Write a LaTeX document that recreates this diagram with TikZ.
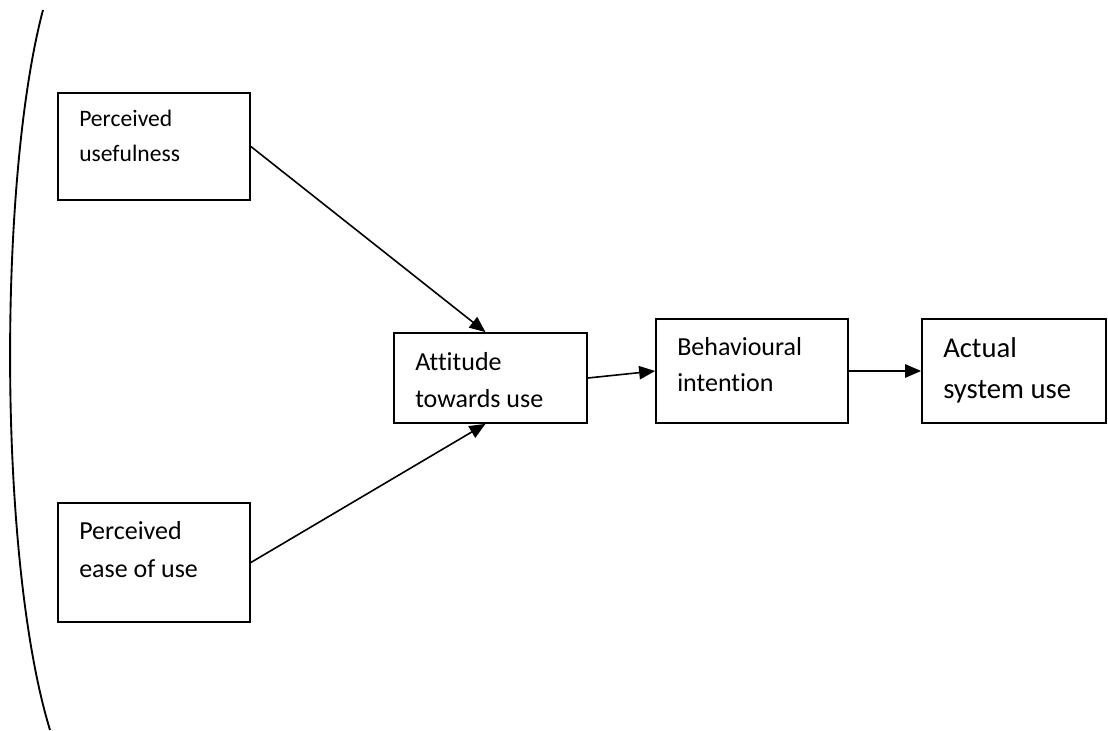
\documentclass[tikz,border=0pt]{standalone}
\usepackage{fontspec}
\setmainfont{Carlito}[Ligatures=NoCommon]
\usetikzlibrary{arrows.meta}
\tikzset{
  box/.style={draw,line width=1.3pt,inner sep=0pt},
  lbl/.style={anchor=base west,align=left,inner sep=0pt},
  arr/.style={draw,line width=1.2pt,-{Triangle[length=12pt,width=10pt]}}
}
\begin{document}
\begin{tikzpicture}[x=0.75pt,y=-0.75pt]
    \useasboundingbox (0,0) rectangle (1108,731);
    \draw[line width=1.4pt] (43,10) .. controls (-2,180) and (-2,560) .. (50,730);
    \node[box,minimum width=144pt,minimum height=80.25pt] at (154,146.5)(pu){};
    \node[box,minimum width=144pt,minimum height=89.25pt] at (154,562.5)(pe){};
    \node[box,minimum width=144.75pt,minimum height=67.5pt] at (490.5,378)(atu){};
    \node[box,minimum width=144pt,minimum height=78pt] at (752,371)(bi){};
    \node[box,minimum width=138pt,minimum height=78pt] at (1014,371)(asu){};
    % base anchor sits on the last line
    \node[lbl,font=\fontsize{17.7}{26.25}\selectfont] at (79,162)(puText){Perceived\\usefulness};
    \node[lbl,font=\fontsize{19.5}{28.5}\selectfont] at (79,577)(peText){Perceived\\ease of use};
    \node[lbl,font=\fontsize{19.5}{27.75}\selectfont] at (415,407)(atuText){Attitude\\towards use};
    \node[lbl,font=\fontsize{19.5}{27.75}\selectfont] at (677,392)(biText){Behavioural\\intention};
    \node[lbl,font=\fontsize{21.5}{30.75}\selectfont] at (943,398)(asuText){Actual\\system use};
    \path[arr] (pu.east) -- ([xshift=-3.75pt]atu.north);
    \path[arr] (pe.east) -- ([xshift=-3.75pt]atu.south);
    \path[arr] (atu.east) -- (bi.west);
    \path[arr] (bi.east) -- (asu.west);
\end{tikzpicture}
\end{document}
